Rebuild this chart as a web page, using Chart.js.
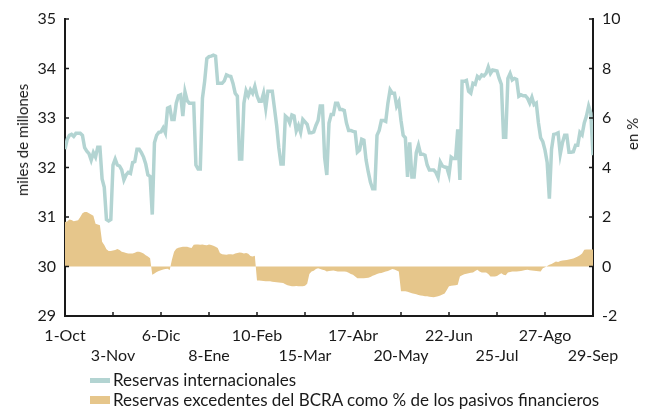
<!DOCTYPE html>
<html lang="es">
<head>
<meta charset="UTF-8">
<title>Reservas internacionales</title>
<style>
body { margin: 0; background: #fff; font-family: Lato, "Open Sans", sans-serif; color: #1a1a1a; }
#wrap { position: relative; width: 653px; height: 412px; }
canvas { position: absolute; left: 0; top: 0; }
.ytitle { position: absolute; font-size: 15px; white-space: nowrap; transform: translate(-50%, -50%) rotate(-90deg); }
.legend { position: absolute; left: 90px; font-size: 17px; line-height: 20px; }
.legend div { display: flex; align-items: center; height: 20px; }
.sw { display: inline-block; width: 20px; margin-right: 3px; }
</style>
</head>
<body>
<div id="wrap">
  <canvas id="chart" width="653" height="412"></canvas>
  <div class="ytitle" style="left:22px; top:140px;">miles de millones</div>
  <div class="ytitle" style="left:632px; top:134px;">en %</div>
  <div class="legend" style="top:370px;">
    <div><span class="sw" style="height:5px; background:#b3d4d2;"></span>Reservas internacionales</div>
    <div><span class="sw" style="height:8px; background:#e6c68b;"></span>Reservas excedentes del BCRA como % de los pasivos financieros</div>
  </div>
</div>

<script src="https://cdn.jsdelivr.net/npm/chart.js"></script>
<script>
// tick labels, one every 22 business days (two alternating rows)
const fechas = ['1-Oct', '3-Nov', '6-Dic', '8-Ene', '10-Feb', '15-Mar', '17-Abr', '20-May', '22-Jun', '25-Jul', '27-Ago', '29-Sep'];

// reservas internacionales, miles de millones (eje izquierdo)
const reservas = [
  32.37, 32.57, 32.65, 32.67, 32.63, 32.69, 32.69, 32.69, 32.65, 32.4,
  32.33, 32.28, 32.15, 32.3, 32.21, 32.41, 32.41, 31.77, 31.6, 30.95,
  30.92, 30.95, 32.05, 32.17, 32.05, 32.03, 31.95, 31.75, 31.85, 31.9,
  31.88, 32.1, 32.12, 32.37, 32.37, 32.3, 32.21, 32.07, 31.85, 31.82,
  31.05, 32.5, 32.65, 32.71, 32.72, 32.8, 32.7, 33.2, 33.22, 32.97,
  32.97, 33.3, 33.45, 33.47, 33.04, 33.53, 33.35, 33.3, 33.3, 33.3,
  32.05, 31.97, 31.97, 33.4, 33.74, 34.2, 34.24, 34.25, 34.27, 34.25,
  33.7, 33.7, 33.7, 33.75, 33.87, 33.85, 33.84, 33.7, 33.5, 33.44,
  32.17, 32.17, 33.3, 33.55, 33.45, 33.57, 33.5, 33.64, 33.45, 33.34,
  33.34, 33.5, 33.2, 33.54, 33.54, 33.54, 33.2, 32.85, 32.4, 32.07,
  32.07, 33.04, 33.0, 32.9, 33.06, 33.04, 32.74, 32.85, 32.71, 32.97,
  32.92, 32.87, 32.7, 32.7, 32.72, 32.85, 32.95, 33.24, 33.24, 32.2,
  31.85, 32.9, 33.07, 33.07, 33.3, 33.3, 33.17, 33.17, 33.15, 32.9,
  32.75, 32.75, 32.73, 32.72, 32.31, 32.35, 32.57, 32.55, 32.15, 31.91,
  31.7, 31.57, 31.57, 32.65, 32.75, 32.95, 32.95, 32.93, 33.3, 33.57,
  33.5, 33.5, 33.24, 33.33, 32.95, 32.65, 32.6, 31.81, 32.51, 31.81,
  31.81, 32.3, 32.45, 32.27, 32.27, 32.25, 32.05, 31.95, 31.95, 31.95,
  31.9, 31.8, 32.11, 32.03, 32.01, 32.0, 31.85, 32.21, 32.18, 32.18,
  32.77, 31.75, 33.74, 33.74, 33.76, 33.54, 33.5, 33.7, 33.68, 33.84,
  33.8, 33.87, 33.85, 33.9, 34.03, 33.9, 33.97, 33.96, 33.95, 33.8,
  33.68, 32.61, 32.61, 33.8, 33.9, 33.77, 33.8, 33.78, 33.44, 33.47,
  33.45, 33.45, 33.4, 33.3, 33.42, 33.27, 33.3, 32.9, 32.6, 32.52,
  32.35, 32.1, 31.37, 32.37, 32.67, 32.68, 32.7, 32.27, 32.5, 32.65,
  32.65, 32.31, 32.31, 32.32, 32.45, 32.45, 32.71, 32.66, 32.9, 33.04,
  33.24, 33.1, 32.25
];

// reservas excedentes del BCRA, % de pasivos financieros (eje derecho)
const excedentes = [
  1.8, 1.82, 1.9, 1.88, 1.83, 1.85, 1.87, 2.0, 2.15, 2.2,
  2.2, 2.15, 2.1, 2.05, 1.73, 1.7, 1.67, 1.0, 0.87, 0.7,
  0.63, 0.63, 0.65, 0.67, 0.71, 0.67, 0.6, 0.58, 0.55, 0.53,
  0.53, 0.53, 0.56, 0.6, 0.6, 0.57, 0.53, 0.45, 0.4, 0.33,
  -0.33, -0.28, -0.22, -0.18, -0.15, -0.12, -0.1, -0.09, -0.14, 0.27,
  0.6, 0.72, 0.76, 0.78, 0.8, 0.8, 0.8, 0.77, 0.75, 0.88,
  0.89, 0.89, 0.88, 0.89, 0.87, 0.86, 0.89, 0.87, 0.84, 0.8,
  0.75, 0.55, 0.5, 0.48, 0.47, 0.5, 0.49, 0.48, 0.53, 0.55,
  0.57, 0.56, 0.53, 0.55, 0.52, 0.42, 0.4, 0.43, -0.57, -0.57,
  -0.58, -0.59, -0.6, -0.6, -0.6, -0.62, -0.63, -0.64, -0.65, -0.66,
  -0.67, -0.72, -0.76, -0.78, -0.8, -0.8, -0.79, -0.8, -0.8, -0.8,
  -0.78, -0.7, -0.3, -0.2, -0.17, -0.1, -0.07, -0.1, -0.13, -0.15,
  -0.2, -0.18, -0.17, -0.16, -0.18, -0.2, -0.2, -0.2, -0.2, -0.21,
  -0.25, -0.3, -0.33, -0.4, -0.47, -0.47, -0.47, -0.47, -0.46, -0.45,
  -0.42, -0.37, -0.34, -0.3, -0.27, -0.26, -0.23, -0.2, -0.18, -0.14,
  -0.1, -0.12, -0.16, -0.2, -1.0, -1.0, -1.0, -1.02, -1.05, -1.08,
  -1.1, -1.12, -1.15, -1.17, -1.18, -1.2, -1.2, -1.22, -1.23, -1.24,
  -1.22, -1.2, -1.17, -1.13, -1.09, -0.95, -0.8, -0.78, -0.77, -0.76,
  -0.74, -0.4, -0.35, -0.31, -0.29, -0.27, -0.25, -0.24, -0.18, -0.13,
  -0.2, -0.24, -0.24, -0.24, -0.3, -0.4, -0.4, -0.4, -0.38, -0.32,
  -0.27, -0.33, -0.35, -0.24, -0.22, -0.2, -0.2, -0.2, -0.19, -0.18,
  -0.16, -0.14, -0.13, -0.15, -0.16, -0.17, -0.18, -0.19, -0.2, -0.07,
  -0.03, 0.02, 0.07, 0.1, 0.15, 0.2, 0.18, 0.22, 0.24, 0.25,
  0.26, 0.28, 0.3, 0.32, 0.36, 0.4, 0.45, 0.53, 0.68, 0.69,
  0.69, 0.69, 0.69
];

const step = 22;
const toPoints = arr => arr.map((v, i) => ({ x: i, y: v }));

// small tick marks pointing into the plot, like the original
const innerTicks = {
  id: 'innerTicks',
  afterDraw(chart) {
    const ctx = chart.ctx;
    const s = chart.scales;
    ctx.save();
    ctx.strokeStyle = '#1a1a1a';
    ctx.lineWidth = 1.5;
    ctx.beginPath();
    s.y.ticks.forEach(t => {
      const p = s.y.getPixelForValue(t.value);
      ctx.moveTo(s.y.right, p); ctx.lineTo(s.y.right + 4, p);
    });
    s.y2.ticks.forEach(t => {
      const p = s.y2.getPixelForValue(t.value);
      ctx.moveTo(s.y2.left, p); ctx.lineTo(s.y2.left - 4, p);
    });
    s.x.ticks.forEach(t => {
      const p = s.x.getPixelForValue(t.value);
      ctx.moveTo(p, s.x.top); ctx.lineTo(p, s.x.top - 4);
    });
    ctx.stroke();
    ctx.restore();
  }
};

const tickFont = { family: 'Lato', size: 16, lineHeight: 1.25 };

new Chart(document.getElementById('chart'), {
  type: 'line',
  data: {
    datasets: [
      {
        label: 'Reservas internacionales',
        data: toPoints(reservas),
        yAxisID: 'y',
        borderColor: '#b3d4d2',
        borderWidth: 3.5,
        pointRadius: 0,
        tension: 0,
        fill: false
      },
      {
        label: 'Reservas excedentes del BCRA como % de los pasivos financieros',
        data: toPoints(excedentes),
        yAxisID: 'y2',
        borderWidth: 0,
        backgroundColor: '#e6c68b',
        pointRadius: 0,
        tension: 0,
        fill: 'origin'
      }
    ]
  },
  options: {
    responsive: false,
    animation: false,
    layout: { padding: { top: 16, left: 0, right: 0, bottom: 0 } },
    plugins: {
      legend: { display: false },
      tooltip: { enabled: false }
    },
    scales: {
      x: {
        type: 'linear',
        min: 0,
        max: reservas.length - 1,
        grid: { display: false, drawTicks: false },
        border: { display: true, color: '#1a1a1a', width: 2 },
        afterBuildTicks: scale => { scale.ticks = fechas.map((_, k) => ({ value: k * step })); },
        afterFit: scale => { scale.height = 412 - 316; },
        ticks: {
          autoSkip: false,
          maxRotation: 0,
          padding: 10,
          color: '#1a1a1a',
          font: tickFont,
          callback: value => {
            const k = Math.round(value / step);
            return k % 2 ? ['', fechas[k]] : fechas[k];
          }
        }
      },
      y: {
        position: 'left',
        min: 29,
        max: 35,
        grid: { display: false, drawTicks: false },
        border: { display: true, color: '#1a1a1a', width: 2 },
        afterFit: scale => { scale.width = 65; },
        ticks: { stepSize: 1, padding: 9, color: '#1a1a1a', font: tickFont }
      },
      y2: {
        position: 'right',
        min: -2,
        max: 10,
        grid: { display: false, drawTicks: false },
        border: { display: true, color: '#1a1a1a', width: 2 },
        afterFit: scale => { scale.width = 60; },
        ticks: { stepSize: 2, padding: 9, color: '#1a1a1a', font: tickFont }
      }
    }
  },
  plugins: [innerTicks]
});
</script>
</body>
</html>
